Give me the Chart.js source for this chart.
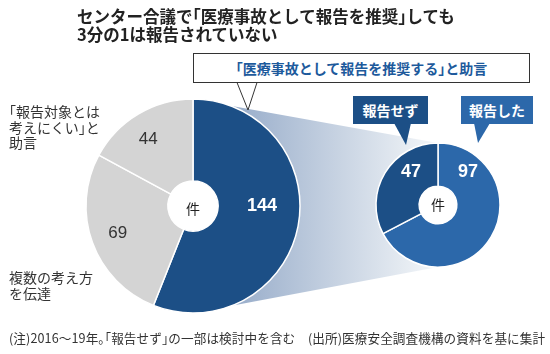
<!DOCTYPE html>
<html><head><meta charset="utf-8">
<script src="https://cdn.jsdelivr.net/npm/chart.js@4/dist/chart.umd.min.js"></script>
<style>
html,body{margin:0;padding:0;background:#fff;}
#wrap{position:relative;width:550px;height:354px;overflow:hidden;background:#fff;font-family:"Noto Sans CJK JP","Noto Sans",sans-serif;color:#333;}
canvas{position:absolute;}
.t{position:absolute;white-space:nowrap;}
.h{font-feature-settings:"halt";}
#title{left:77px;top:7px;font-size:16.5px;font-weight:bold;line-height:18px;color:#222;letter-spacing:0px;}
.lbl{font-size:14px;line-height:15.5px;color:#333;}
#note{left:9px;top:328px;font-size:12.6px;color:#333;letter-spacing:0.1px;}
.box{position:absolute;box-sizing:border-box;text-align:center;font-weight:bold;font-size:14px;}
</style></head>
<body>
<div id="wrap">
  <canvas id="bg" width="550" height="354" style="left:0;top:0;z-index:0"></canvas>
  <canvas id="big" width="240" height="240" style="left:73px;top:86px;z-index:1"></canvas>
  <canvas id="small" width="140" height="140" style="left:368px;top:135px;z-index:1"></canvas>
  <canvas id="fg" width="550" height="354" style="left:0;top:0;z-index:2"></canvas>

  <div id="title" class="t" style="z-index:4">センター合議で<span class="h">「</span>医療事故として報告を推奨<span class="h">」</span>しても<br>3分の1は報告されていない</div>

  <div class="box" style="left:193px;top:53px;width:337px;height:30px;border:1px solid #333;background:#fff;color:#1d5a9c;line-height:28px;z-index:3"><span class="h">「</span>医療事故として報告を推奨する<span class="h">」</span>と助言</div>
  <div class="box" style="left:353px;top:96px;width:75px;height:28px;background:#1c4f86;color:#fff;line-height:28px;z-index:3">報告せず</div>
  <div class="box" style="left:461px;top:96px;width:72px;height:28px;background:#2c68aa;color:#fff;line-height:28px;z-index:3">報告した</div>

  <div class="t lbl" style="left:9px;top:104px;z-index:4"><span class="h">「</span>報告対象とは<br>考えにくい<span class="h">」</span>と<br>助言</div>
  <div class="t lbl" style="left:9px;top:270px;z-index:4">複数の考え方<br>を伝達</div>

  <div id="note" class="t" style="z-index:4">(注)2016～19年<span class="h">。「</span>報告せず<span class="h">」</span>の一部は検討中を含む　(出所)医療安全調査機構の資料を基に集計</div>
</div>
<script>
// ---- data ----
const bigCategories = ["「医療事故として報告を推奨する」と助言", "複数の考え方を伝達", "「報告対象とは考えにくい」と助言"];
const bigValues = [144, 69, 44];
const smallCategories = ["報告した", "報告せず"];
const smallValues = [97, 47];
const unitLabel = "件";

// ---- styles ----
const bigColors = ["#1c4f86", "#d4d4d4", "#d4d4d4"];
const smallColors = ["#2c68aa", "#1c4f86"];

const holePlugin = {
  id: 'hole',
  beforeDatasetsDraw(chart) {
    const arc = chart.getDatasetMeta(0).data[0];
    const ctx = chart.ctx;
    ctx.save();
    ctx.beginPath();
    ctx.arc(arc.x, arc.y, arc.innerRadius + 1, 0, Math.PI * 2);
    ctx.fillStyle = '#fff';
    ctx.fill();
    ctx.restore();
  }
};

const labelPlugin = {
  id: 'vlabels',
  afterDatasetsDraw(chart, args, opts) {
    const meta = chart.getDatasetMeta(0);
    const ctx = chart.ctx;
    const vals = chart.data.datasets[0].data;
    ctx.save();
    ctx.textAlign = 'center';
    ctx.textBaseline = 'middle';
    meta.data.forEach((arc, i) => {
      const a = opts.angles[i] * Math.PI / 180 - Math.PI / 2;
      const x = arc.x + opts.radii[i] * Math.cos(a);
      const y = arc.y + opts.radii[i] * Math.sin(a);
      ctx.fillStyle = opts.colors[i];
      ctx.font = opts.fonts[i];
      ctx.fillText(String(vals[i]), x, y);
    });
    const c = meta.data[0];
    ctx.fillStyle = '#222';
    ctx.font = opts.unitFont;
    ctx.fillText(unitLabel, c.x, c.y + opts.unitDy);
    ctx.restore();
  }
};

function makePie(id, labels, values, colors, radius, cutout, lblOpts) {
  return new Chart(document.getElementById(id), {
    type: 'doughnut',
    data: { labels: labels, datasets: [{ data: values, backgroundColor: colors, borderColor: '#ffffff', borderWidth: 1.5 }] },
    options: {
      responsive: false, animation: false, events: [],
      radius: radius, cutout: cutout, rotation: 0,
      layout: { padding: 0 },
      plugins: { legend: { display: false }, tooltip: { enabled: false }, vlabels: lblOpts }
    },
    plugins: [holePlugin, labelPlugin]
  });
}

const bold = 'bold 18px "Liberation Sans", Arial, sans-serif';
const norm = '17px "Liberation Sans", Arial, sans-serif';
const big = makePie('big', bigCategories, bigValues, bigColors, 107, 28, {
  angles: [90, 250, 326], radii: [69, 80, 80],
  colors: ['#fff', '#333', '#333'], fonts: [bold, norm, norm],
  unitFont: '14px "Noto Sans CJK JP"', unitDy: 3
});
const small = makePie('small', smallCategories, smallValues, smallColors, 62, 21, {
  angles: [42, 321], radii: [45, 43],
  colors: ['#fff', '#fff'], fonts: [bold, bold],
  unitFont: '14px "Noto Sans CJK JP"', unitDy: 0
});

// ---- decoration: band linking the pies, and callout pointers ----
function pageArc(chart, id) {
  const arc = chart.getDatasetMeta(0).data[0];
  const cv = document.getElementById(id);
  return { x: arc.x + cv.offsetLeft, y: arc.y + cv.offsetTop, r: arc.outerRadius };
}
const B = pageArc(big, 'big');
const S = pageArc(small, 'small');
const bg = document.getElementById('bg').getContext('2d');
const g = bg.createLinearGradient(B.x + 50, 0, S.x - 15, 0);
g.addColorStop(0, '#9cb0cc');
g.addColorStop(1, '#eef2f6');
bg.fillStyle = g;
bg.beginPath();
bg.moveTo(B.x, B.y - B.r);
bg.lineTo(S.x, S.y - S.r);
bg.lineTo(S.x, S.y + S.r);
bg.lineTo(B.x, B.y + B.r);
bg.closePath();
bg.fill();

const fg = document.getElementById('fg').getContext('2d');
fg.beginPath();
fg.moveTo(237, 82.5); fg.lineTo(248, 110); fg.lineTo(257, 82.5);
fg.fillStyle = '#fff'; fg.fill();
fg.strokeStyle = '#333'; fg.lineWidth = 1; fg.stroke();
fg.beginPath();
fg.moveTo(394, 123); fg.lineTo(406, 145); fg.lineTo(411, 123); fg.closePath();
fg.fillStyle = '#1c4f86'; fg.fill();
fg.beginPath();
fg.moveTo(474, 123); fg.lineTo(478, 143); fg.lineTo(490, 123); fg.closePath();
fg.fillStyle = '#2c68aa'; fg.fill();
</script>
</body></html>
